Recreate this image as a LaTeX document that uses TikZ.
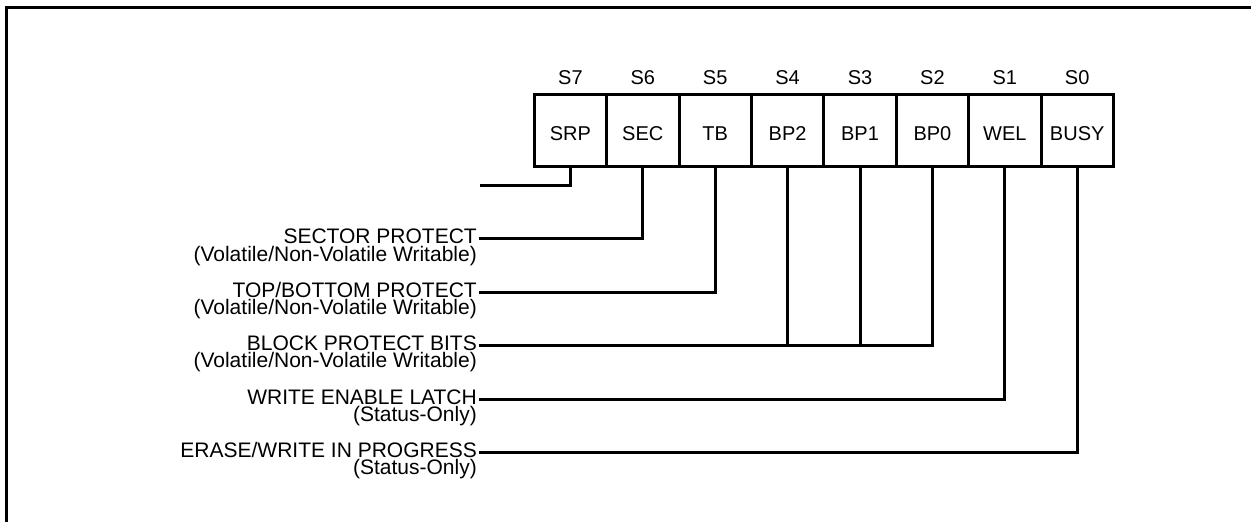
\documentclass[tikz,border=0pt]{standalone}
\usepackage{fontspec}
\setmainfont{Liberation Sans}
\usetikzlibrary{matrix,positioning}

\begin{document}
\begin{tikzpicture}[x=1pt,y=-1pt]
    \tikzstyle{block} = [rectangle, draw, line width=3pt, minimum width=72.4pt,
               minimum height=72pt, inner sep=0pt,
               text height=20pt, text depth=0pt,
               font=\fontsize{20}{20}\selectfont]
    \tikzstyle{bitnum} = [inner sep=0pt, text height=14pt, text depth=0pt,
               font=\fontsize{20}{20}\selectfont]
    \tikzstyle{field} = [inner xsep=2pt, inner ysep=0pt, text height=10pt,
               text depth=0pt, font=\fontsize{21}{21}\selectfont]
    \tikzstyle{note} = [field, text height=17.5pt]
    \tikzstyle{line} = [draw, line width=3pt]

    \useasboundingbox (0,0) rectangle (1251,522);

    % outer frame (cut at right and bottom)
    \draw [line width=3pt] (6,522) -- (6,7.5) -- (1251,7.5);

    % Define register
    \matrix [matrix of nodes, inner sep=0pt, anchor=south west,
      row 1/.style={nodes=bitnum},
      row 2/.style={nodes=block},
      column sep=-3pt,
      row sep=8.5pt
    ] (sr) at (532.5,168.5) {
      S7 & S6 & S5 & S4 & S3 & S2 & S1 & S0 \\
      SRP & SEC & TB & BP2 & BP1 & BP0 & WEL & BUSY \\
    };

    % Field names
    \coordinate (srpend) at (480,185);
    \node [field, anchor=east] (sec) at (479,238.5) {SECTOR PROTECT};
    \node [note, below left=0pt and 0pt of sec.south east] (secnote)
      {(Volatile/Non-Volatile Writable)};
    \node [field, anchor=east] (tb) at (479,292) {TOP/BOTTOM PROTECT};
    \node [note, below left=0pt and 0pt of tb.south east] (tbnote)
      {(Volatile/Non-Volatile Writable)};
    \node [field, anchor=east] (bp) at (479,345) {BLOCK PROTECT BITS};
    \node [note, below left=0pt and 0pt of bp.south east] (bpnote)
      {(Volatile/Non-Volatile Writable)};
    \node [field, anchor=east] (wel) at (479,399) {WRITE ENABLE LATCH};
    \node [note, below left=0pt and 0pt of wel.south east] (welnote)
      {(Status-Only)};
    \node [field, anchor=east] (busy) at (479,452) {ERASE/WRITE IN PROGRESS};
    \node [note, below left=0pt and 0pt of busy.south east] (busynote)
      {(Status-Only)};

    % Draw lines from the bits
    \draw [line] (sr-2-1.south) |- (srpend);
    \draw [line] (sr-2-2.south) |- (sec.east);
    \draw [line] (sr-2-3.south) |- (tb.east);
    \draw [line] (sr-2-6.south) |- (bp.east);
    \draw [line] (sr-2-5.south) -- (sr-2-5.south |- bp.east);
    \draw [line] (sr-2-4.south) -- (sr-2-4.south |- bp.east);
    \draw [line] (sr-2-7.south) |- (wel.east);
    \draw [line] (sr-2-8.south) |- (busy.east);
\end{tikzpicture}
\end{document}
